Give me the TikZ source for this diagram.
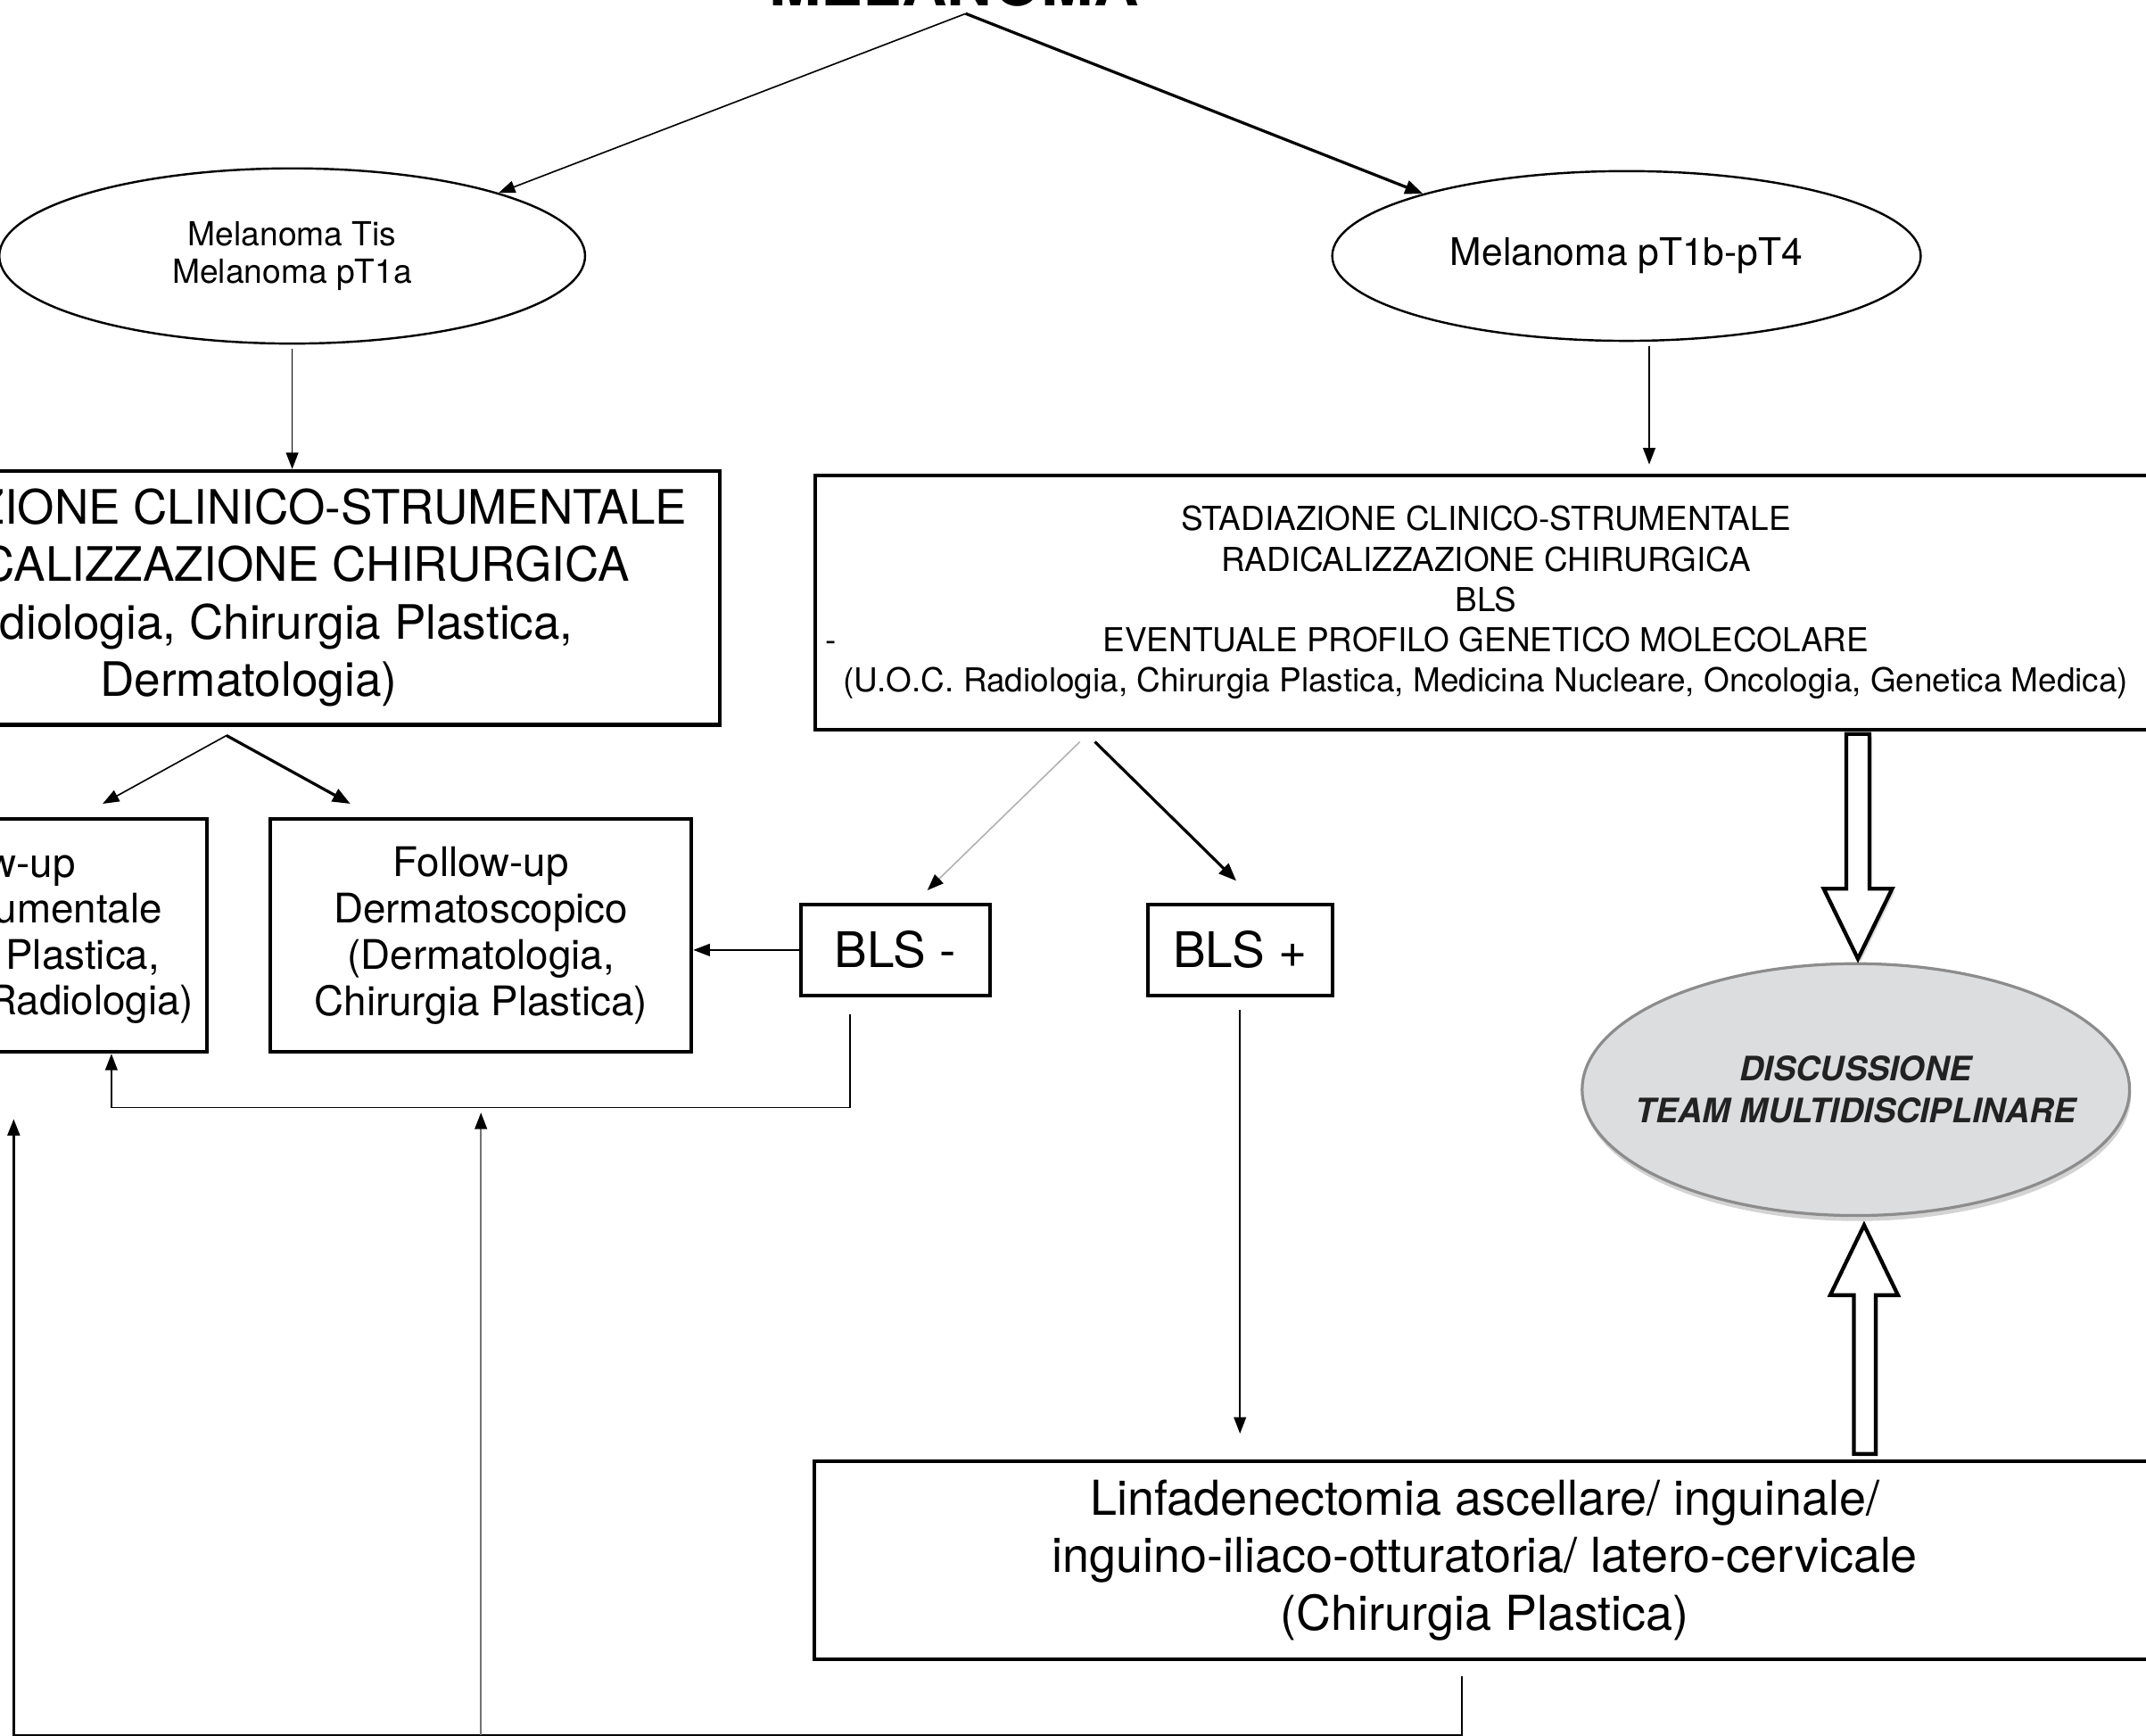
\documentclass[tikz,border=0pt]{standalone}
\usepackage{fontspec}
\setmainfont{TeX Gyre Heros}
\usepackage{tikz}
\usetikzlibrary{arrows.meta}
\usetikzlibrary{shapes}
\usetikzlibrary{positioning}
\usetikzlibrary{calc}
\usetikzlibrary{shadows}
\definecolor{discfill}{HTML}{DCDDDF}
\definecolor{discline}{HTML}{8C8C8C}
\definecolor{disctext}{HTML}{222222}
\tikzstyle{box} = [rectangle, draw, line width=0.75pt, align=center, inner sep=0pt]
\tikzstyle{oval} = [ellipse, draw, line width=0.45pt, align=center, inner sep=0pt]
\tikzstyle{line} = [draw, line width=0.3pt, -{Triangle[length=0.12cm,width=0.09cm]}]
\tikzstyle{line2} = [draw, line width=0.6pt, -{Triangle[length=0.13cm,width=0.1cm]}]
\tikzstyle{hollow} = [draw, line width=0.8pt, fill=white, line join=miter,
drop shadow={shadow xshift=0.02cm, shadow yshift=-0.02cm, opacity=0.3}]

\begin{document}
\begin{tikzpicture}
	\useasboundingbox (0,0) rectangle (15.68,-12.68);
	\clip (0,0) rectangle (15.68,-12.68);
	% title and stages
	\node [anchor=base, inner sep=0pt, font=\fontsize{13}{15}\selectfont\bfseries] at (6.97,-0.045) (title) {MELANOMA};
	\node [oval, minimum width=4.28cm, minimum height=1.28cm, font=\fontsize{6.9}{7.7}\selectfont] at (2.135,-1.87) (tisE) {Melanoma Tis\\Melanoma pT1a};
	\node [oval, minimum width=4.3cm, minimum height=1.24cm, font=\fontsize{7.9}{9}\selectfont] at (11.884,-1.87) (pTE) {Melanoma pT1b-pT4};
	% boxes
	\node [box, minimum width=6.88cm, minimum height=1.855cm, font=\fontsize{9.85}{11.95}\selectfont] at (1.817,-4.3675) (stadL) {STADIAZIONE CLINICO-STRUMENTALE\\RADICALIZZAZIONE CHIRURGICA\\(Radiologia, Chirurgia Plastica,\\Dermatologia)};
	\node [box, minimum width=9.8cm, minimum height=1.854cm, font=\fontsize{6.85}{8.4}\selectfont] at (10.857,-4.403) (stadR) {STADIAZIONE CLINICO-STRUMENTALE\\RADICALIZZAZIONE CHIRURGICA\\BLS\\EVENTUALE PROFILO GENETICO MOLECOLARE\\(U.O.C. Radiologia, Chirurgia Plastica, Medicina Nucleare, Oncologia, Genetica Medica)};
	\node [font=\fontsize{6.85}{8}\selectfont, inner sep=0pt] at ([xshift=0.127cm,yshift=-0.322cm]stadR.west) (dashmark) {-};
	\node [box, minimum width=3.198cm, minimum height=1.70cm, font=\fontsize{8.48}{9.55}\selectfont] at (-0.09,-6.835) (fuA) {Follow-up\\Clinico-strumentale\\(Chirurgia Plastica,\\Oncologia, Radiologia)};
	\node [box, minimum width=3.078cm, minimum height=1.70cm, font=\fontsize{8.48}{9.7}\selectfont] at (3.514,-6.835) (fuB) {Follow-up\\Dermatoscopico\\(Dermatologia,\\Chirurgia Plastica)};
	\node [box, minimum width=1.38cm, minimum height=0.66cm, font=\fontsize{10.2}{12}\selectfont] at (6.543,-6.94) (BLSm) {BLS -};
	\node [box, minimum width=1.35cm, minimum height=0.66cm, font=\fontsize{10.2}{12}\selectfont] at (9.06,-6.94) (BLSp) {BLS +};
	\node [box, minimum width=9.8cm, minimum height=1.443cm, font=\fontsize{10}{11.95}\selectfont] at (10.85,-11.3975) (linf) {Linfadenectomia ascellare/ inguinale/\\inguino-iliaco-otturatoria/ latero-cervicale\\(Chirurgia Plastica)};
	\node [ellipse, draw=discline, fill=discfill, line width=0.6pt, minimum width=4cm, minimum height=1.84cm, inner xsep=-0.35cm, inner ysep=0pt, align=center, text=disctext, font=\fontsize{7}{8.7}\selectfont\bfseries\itshape, drop shadow={shadow xshift=0.01cm, shadow yshift=-0.04cm, opacity=0.35}] at (13.56,-7.96) (disc) {DISCUSSIONE\\TEAM MULTIDISCIPLINARE};
	% connectors
	\coordinate (apex) at ([xshift=0.086cm,yshift=-0.042cm]title.south);
	\path [line] (apex) -- (tisE.17);
	\path [line2] (apex) -- (pTE.163);
	\path [line] ([yshift=-0.03cm]tisE.south) -- (tisE.south |- stadL.north);
	\coordinate (pTdown) at ([xshift=0.166cm,yshift=-0.03cm]pTE.south);
	\path [line, shorten >=0.07cm] (pTdown) -- (pTdown |- stadR.north);
	\coordinate (splitL) at ([xshift=-0.162cm,yshift=-0.065cm]stadL.south);
	\path [line] (splitL) -- ([xshift=0.84cm,yshift=0.1cm]fuA.north);
	\path [line2] (splitL) -- ([xshift=-0.954cm,yshift=0.1cm]fuB.north);
	\coordinate (splitR) at ([xshift=-2.912cm,yshift=-0.076cm]stadR.south);
	\path [line, draw=black!30, -{Triangle[length=0.12cm,width=0.09cm,color=black]}] ([xshift=-0.055cm]splitR) -- ([xshift=0.233cm,yshift=0.093cm]BLSm.north);
	\path [line2] ([xshift=0.055cm]splitR) -- ([xshift=-0.027cm,yshift=0.162cm]BLSp.north);
	\path [line] (BLSm.west) -- (BLSm.west -| fuB.east);
	\coordinate (bmDown) at ([xshift=-0.333cm,yshift=-0.127cm]BLSm.south);
	\path [line] (bmDown) -- ++(0,-0.68) -| ([xshift=0.904cm]fuA.south);
	\path [line, shorten >=0.19cm] ([yshift=-0.095cm]BLSp.south) -- (BLSp.south |- linf.north);
	\coordinate (lfDown) at ([xshift=-0.17cm,yshift=-0.11cm]linf.south);
	\coordinate (lfBase) at ([yshift=-0.433cm]lfDown);
	\path [line, line width=0.45pt] (lfDown) -- (lfBase) -| ([xshift=0.19cm,yshift=-0.477cm]fuA.south);
	\path [line, draw=black!55, -{Triangle[length=0.12cm,width=0.09cm,color=black]}] (lfBase -| fuB.south) -- ([yshift=-0.43cm]fuB.south);
	% hollow arrows to the team
	\draw [hollow, shift={(disc.north)}] (-0.07,1.667) -- (-0.07,0.537) -- (-0.235,0.537) -- (0.015,0.025) -- (0.265,0.537) -- (0.10,0.537) -- (0.10,1.667) -- cycle;
	\draw [hollow, shift={(disc.south)}] (-0.015,-1.73) -- (-0.015,-0.57) -- (-0.187,-0.57) -- (0.06,-0.06) -- (0.307,-0.57) -- (0.145,-0.57) -- (0.145,-1.73) -- cycle;
\end{tikzpicture}
\end{document}
